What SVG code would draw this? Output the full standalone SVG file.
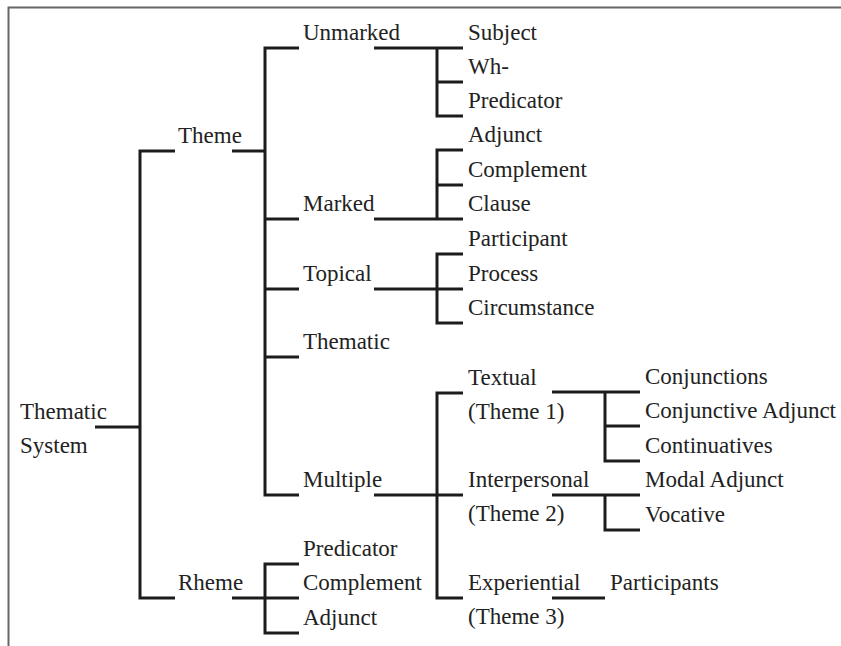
<svg xmlns="http://www.w3.org/2000/svg" width="841" height="646" viewBox="0 0 841 646">
<style>
text{font-family:"Liberation Serif","Times New Roman",serif;font-size:23px;fill:#222}
.c{fill:none;stroke:#1c1c1c;stroke-width:3;stroke-linejoin:miter;stroke-linecap:butt}
.f{fill:none;stroke:#666;stroke-width:2}
</style>
<rect width="841" height="646" fill="#fff"/>
<path class="f" d="M8.5,646 V7.5 H841"/>
<g id="connectors">
<path class="c" d="M95,427 H140"/>
<path class="c" d="M175,151 H140 V598 H175"/>
<path class="c" d="M232,151 H265"/>
<path class="c" d="M299,48 H265 V495 H299"/>
<path class="c" d="M265,219 H299 M265,289 H299 M265,357 H299"/>
<path class="c" d="M232,598 H265"/>
<path class="c" d="M299,564 H265 V633 H299 M265,598 H299"/>
<path class="c" d="M374,48 H463 M437,48 V116 H463 M437,82 H463"/>
<path class="c" d="M374,219 H463 M437,219 V150 H463 M437,185 H463"/>
<path class="c" d="M374,289 H463 M463,254 H437 V323 H463"/>
<path class="c" d="M374,495 H463 M463,393 H437 V598 H463"/>
<path class="c" d="M552,392 H640 M605,392 V461 H640 M605,426 H640"/>
<path class="c" d="M552,495 H640 M605,495 V530 H640"/>
<path class="c" d="M552,598 H605"/>
</g>
<g id="thematic-system"><text x="20" y="419">Thematic</text><text x="20" y="453">System</text></g>
<g id="theme"><text x="178" y="143">Theme</text></g>
<g id="rheme"><text x="178" y="590">Rheme</text></g>
<g id="unmarked"><text x="303" y="40">Unmarked</text></g>
<g id="marked"><text x="303" y="211">Marked</text></g>
<g id="topical"><text x="303" y="281">Topical</text></g>
<g id="thematic"><text x="303" y="349">Thematic</text></g>
<g id="multiple"><text x="303" y="487">Multiple</text></g>
<g id="rheme-predicator"><text x="303" y="556">Predicator</text></g>
<g id="rheme-complement"><text x="303" y="590">Complement</text></g>
<g id="rheme-adjunct"><text x="303" y="625">Adjunct</text></g>
<g id="subject"><text x="468" y="40">Subject</text></g>
<g id="wh"><text x="468" y="74">Wh-</text></g>
<g id="predicator"><text x="468" y="108">Predicator</text></g>
<g id="adjunct"><text x="468" y="142">Adjunct</text></g>
<g id="complement"><text x="468" y="177">Complement</text></g>
<g id="clause"><text x="468" y="211">Clause</text></g>
<g id="participant"><text x="468" y="246">Participant</text></g>
<g id="process"><text x="468" y="281">Process</text></g>
<g id="circumstance"><text x="468" y="315">Circumstance</text></g>
<g id="textual"><text x="468" y="385">Textual</text><text x="468" y="419">(Theme 1)</text></g>
<g id="interpersonal"><text x="468" y="487">Interpersonal</text><text x="468" y="521">(Theme 2)</text></g>
<g id="experiential"><text x="468" y="590">Experiential</text><text x="468" y="624">(Theme 3)</text></g>
<g id="conjunctions"><text x="645" y="384">Conjunctions</text></g>
<g id="conjunctive-adjunct"><text x="645" y="418">Conjunctive Adjunct</text></g>
<g id="continuatives"><text x="645" y="453">Continuatives</text></g>
<g id="modal-adjunct"><text x="645" y="487">Modal Adjunct</text></g>
<g id="vocative"><text x="645" y="522">Vocative</text></g>
<g id="participants"><text x="610" y="590">Participants</text></g>
</svg>
